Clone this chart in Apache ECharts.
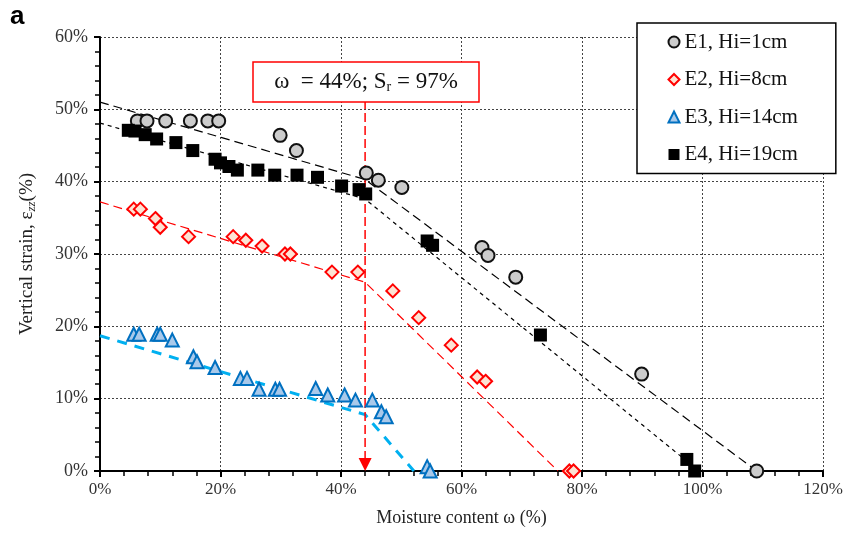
<!DOCTYPE html>
<html><head><meta charset="utf-8">
<script src="https://cdn.jsdelivr.net/npm/echarts@6/dist/echarts.min.js"></script>
<style>html,body{margin:0;padding:0;background:#fff}#c{width:861px;height:535px}</style>
</head><body><div id="c"></div>
<script>
// ---- data ----
const e1X = [6.2, 7.8, 10.9, 15.0, 17.9, 19.7, 29.9, 32.6, 44.2, 46.2, 50.1, 63.4, 64.4, 69.0, 89.9, 109.0];
const e1Y = [48.4, 48.4, 48.4, 48.4, 48.4, 48.4, 46.4, 44.3, 41.2, 40.2, 39.2, 30.9, 29.8, 26.8, 13.4, 0];
const e2X = [5.6, 6.7, 9.2, 10.0, 14.7, 22.1, 24.2, 26.9, 30.7, 31.6, 38.5, 42.8, 48.6, 52.9, 58.3, 62.6, 64.0, 77.9, 78.6];
const e2Y = [36.2, 36.2, 34.9, 33.7, 32.4, 32.4, 31.9, 31.1, 30.0, 30.0, 27.5, 27.5, 24.9, 21.2, 17.4, 13.0, 12.4, 0, 0];
const e3X = [5.6, 6.5, 9.5, 10.0, 12.0, 15.5, 16.1, 19.1, 23.3, 24.4, 26.4, 29.1, 29.8, 35.8, 37.8, 40.6, 42.4, 45.2, 46.7, 47.5, 54.3, 54.8];
const e3Y = [18.9, 18.9, 18.9, 18.9, 18.1, 15.8, 15.1, 14.3, 12.8, 12.8, 11.3, 11.3, 11.3, 11.4, 10.5, 10.5, 9.8, 9.8, 8.2, 7.5, 0.6, 0];
const e4X = [4.7, 5.8, 7.5, 9.4, 12.6, 15.4, 19.1, 20.0, 21.4, 22.8, 26.2, 29.0, 32.7, 36.1, 40.1, 43.0, 44.1, 54.3, 55.2, 73.1, 97.4, 98.7];
const e4Y = [47.1, 47.0, 46.5, 45.9, 45.4, 44.3, 43.1, 42.6, 42.1, 41.6, 41.6, 40.9, 40.9, 40.6, 39.4, 38.9, 38.3, 31.8, 31.2, 18.8, 1.6, 0];
// trend lines (bilinear)
const fit1X = [0, 44, 109];   const fit1Y = [51.0, 40.3, 0];
const fit2X = [0, 44, 76];    const fit2Y = [37.2, 26.1, 0];
const fit3X = [0, 44, 52.1];  const fit3Y = [18.7, 7.8, 0];
const fit4X = [0, 44, 99.4];  const fit4Y = [48.1, 37.6, 0];
// annotation: critical moisture content
const critX = [44, 44];  const critY = [51.3, 1.6];
const arrowX = [44];     const arrowY = [0.9];
const names = ['E1, Hi=1cm', 'E2, Hi=8cm', 'E3, Hi=14cm', 'E4, Hi=19cm'];
const xTicks = {min: 0, max: 120, interval: 20};
const yTicks = {min: 0, max: 60, interval: 10};

const zip = (a, b) => a.map((v, i) => [v, b[i]]);
const serif = "'Liberation Serif','Times New Roman',serif";

const chart = echarts.init(document.getElementById('c'));
const lineS = (x, y, color, width, dash) => ({
  type: 'line', data: zip(x, y), showSymbol: false, symbol: 'none', silent: true,
  lineStyle: {color: color, width: width, type: dash}, z: 2
});
chart.setOption({
  animation: false,
  backgroundColor: '#fff',
  grid: {left: 100, right: 38, top: 37, bottom: 64},
  xAxis: {
    type: 'value', min: xTicks.min, max: xTicks.max, interval: xTicks.interval,
    name: 'Moisture content ω (%)', nameLocation: 'middle', nameGap: 38,
    nameTextStyle: {fontFamily: serif, fontSize: 18, color: '#222'},
    axisLine: {show: true, onZero: false, lineStyle: {color: '#000', width: 2}},
    axisTick: {show: true, length: 6, lineStyle: {color: '#000', width: 2}},
    minorTick: {show: true, splitNumber: 5, length: 5, lineStyle: {color: '#000', width: 1.5}},
    axisLabel: {formatter: '{value}%', fontFamily: serif, fontSize: 17, color: '#333', margin: 10},
    splitLine: {show: true, lineStyle: {color: '#444', width: 1, type: [2, 2]}}
  },
  yAxis: {
    type: 'value', min: yTicks.min, max: yTicks.max, interval: yTicks.interval,
    name: '{n|Vertical strain, ε}{s|zz}{n|(%)}', nameLocation: 'middle', nameGap: 62, nameRotate: 90,
    nameTextStyle: {rich: {
      n: {fontFamily: serif, fontSize: 19, color: '#222'},
      s: {fontFamily: serif, fontSize: 13, fontStyle: 'italic', color: '#222', verticalAlign: 'bottom', padding: [8, 0, 0, 0]}
    }},
    axisLine: {show: true, onZero: false, lineStyle: {color: '#000', width: 2}},
    axisTick: {show: true, length: 6, lineStyle: {color: '#000', width: 2}},
    minorTick: {show: true, splitNumber: 5, length: 5, lineStyle: {color: '#000', width: 1.5}},
    axisLabel: {formatter: '{value}%', fontFamily: serif, fontSize: 18, color: '#333', margin: 12},
    splitLine: {show: true, lineStyle: {color: '#444', width: 1, type: [2, 2]}}
  },
  legend: {
    data: names, orient: 'vertical', left: 637, top: 23,
    padding: [8.5, 38, 8.5, 30.5], itemGap: 16.5, itemWidth: 11, itemHeight: 11,
    borderColor: '#000', borderWidth: 1.5, backgroundColor: '#fff',
    textStyle: {fontFamily: serif, fontSize: 21, color: '#111'}
  },
  graphic: [
    {type: 'text', left: 10, top: 4, style: {text: 'a', font: "bold 26px 'Liberation Sans', Arial, sans-serif", fill: '#000'}},
    {type: 'rect', shape: {x: 253, y: 62, width: 226, height: 40}, style: {fill: '#fff', stroke: '#ff0000', lineWidth: 1.5}, z: 10},
    {type: 'text', x: 366, y: 82, z: 11, style: {
      text: '{n|ω  = 44%; S}{s|r}{n| = 97%}', align: 'center', verticalAlign: 'middle',
      rich: {n: {fontFamily: serif, fontSize: 23, fill: '#111'}, s: {fontFamily: serif, fontSize: 14, fill: '#111', padding: [11, 0, 0, 0]}}
    }}
  ],
  series: [
    lineS(fit1X, fit1Y, '#000', 1.2, [9, 5]),
    lineS(fit4X, fit4Y, '#000', 1.2, [4, 4]),
    lineS(fit2X, fit2Y, '#ff0000', 1.2, [9, 5]),
    lineS(fit3X, fit3Y, '#00B0F0', 3, [10, 8]),
    lineS(critX, critY, '#ff0000', 1.5, [9, 4]),
    {type: 'scatter', data: zip(arrowX, arrowY), symbol: 'triangle', symbolRotate: 180, symbolSize: [13, 13],
     itemStyle: {color: '#ff0000', opacity: 1}, silent: true, z: 3},
    {name: names[0], type: 'scatter', data: zip(e1X, e1Y), symbol: 'circle', symbolSize: 13,
     itemStyle: {color: '#cccccc', borderColor: '#111', borderWidth: 2, opacity: 1}, z: 5},
    {name: names[1], type: 'scatter', data: zip(e2X, e2Y), symbol: 'diamond', symbolSize: 13,
     itemStyle: {color: '#fde3d4', borderColor: '#ff0000', borderWidth: 2, opacity: 1}, z: 5},
    {name: names[2], type: 'scatter', data: zip(e3X, e3Y), symbol: 'triangle', symbolSize: 13,
     itemStyle: {color: '#a9c9ea', borderColor: '#0070C0', borderWidth: 2, opacity: 1}, z: 5},
    {name: names[3], type: 'scatter', data: zip(e4X, e4Y), symbol: 'rect', symbolSize: 13,
     itemStyle: {color: '#000', borderColor: '#000', borderWidth: 0, opacity: 1}, z: 6}
  ]
});
</script></body></html>
